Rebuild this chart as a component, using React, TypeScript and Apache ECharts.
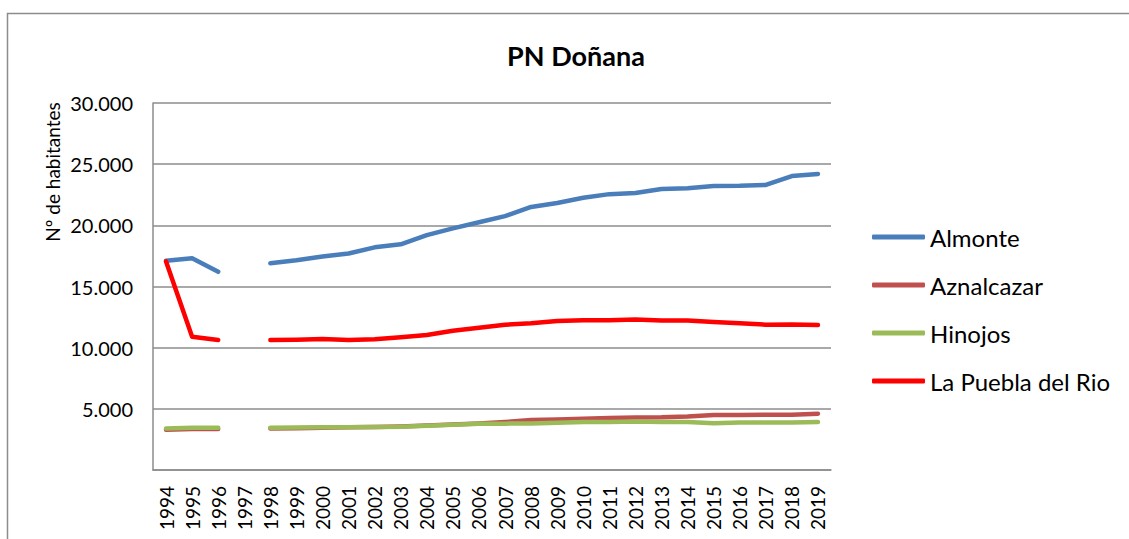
import React, { useEffect, useRef } from "react";
import * as echarts from "echarts";

const years = ["1994","1995","1996","1997","1998","1999","2000","2001","2002","2003","2004","2005","2006","2007","2008","2009","2010","2011","2012","2013","2014","2015","2016","2017","2018","2019"];
const almonte = [17100, 17300, 16200, null, 16900, 17150, 17450, 17700, 18200, 18450, 19200, 19750, 20250, 20750, 21500, 21830, 22250, 22550, 22640, 22970, 23030, 23220, 23230, 23300, 24030, 24200];
const aznalcazar = [3300, 3350, 3350, null, 3400, 3420, 3460, 3490, 3510, 3560, 3640, 3720, 3800, 3920, 4080, 4130, 4190, 4260, 4300, 4310, 4370, 4500, 4500, 4510, 4510, 4600];
const hinojos = [3400, 3450, 3450, null, 3460, 3470, 3490, 3500, 3510, 3540, 3620, 3700, 3780, 3790, 3800, 3870, 3930, 3920, 3960, 3930, 3920, 3830, 3880, 3890, 3880, 3920];
const puebla = [17050, 10900, 10630, null, 10630, 10650, 10700, 10620, 10680, 10850, 11030, 11380, 11620, 11880, 11990, 12180, 12250, 12250, 12310, 12230, 12230, 12100, 11990, 11880, 11900, 11850];

const seriesNames = ["Almonte", "Aznalcazar", "Hinojos", "La Puebla del Rio"];
const seriesColors = ["#4A7EBB", "#C0504D", "#9BBB59", "#FF0000"];
const seriesData = [almonte, aznalcazar, hinojos, puebla];

const FONT = "Lato, 'Open Sans', sans-serif";

function fmt(v: number): string {
  if (v === 0) return "";
  return String(v).replace(/\B(?=(\d{3})+(?!\d))/g, ".");
}

export default function App() {
  const ref = useRef<HTMLDivElement>(null);
  useEffect(() => {
    document.body.style.margin = "0";
    if (!ref.current) return;
    const chart = echarts.init(ref.current, null, { renderer: "svg" });
    chart.setOption({
      animation: false,
      backgroundColor: "#ffffff",
      grid: { left: 153, right: 298, top: 103, bottom: 69 },
      xAxis: {
        type: "category",
        data: years,
        boundaryGap: true,
        axisLine: { lineStyle: { color: "#8c8c8c", width: 1.5 } },
        axisTick: { show: false },
        axisLabel: { rotate: 90, fontFamily: FONT, fontSize: 19, color: "#000", margin: 16, interval: 0 },
      },
      yAxis: {
        type: "value",
        min: 0,
        max: 30000,
        interval: 5000,
        axisLine: { show: true, lineStyle: { color: "#8c8c8c", width: 1.5 } },
        axisTick: { show: false },
        splitLine: { lineStyle: { color: "#8c8c8c", width: 1.5 } },
        axisLabel: { fontFamily: FONT, fontSize: 20, color: "#000", margin: 20, formatter: fmt },
      },
      legend: {
        orient: "vertical",
        left: 867,
        top: 218,
        icon: "roundRect",
        itemWidth: 53,
        itemHeight: 5,
        itemGap: 20,
        textStyle: { fontFamily: FONT, fontSize: 24, color: "#000", lineHeight: 28 },
        data: seriesNames,
      },
      series: seriesNames.map((n, i) => ({
        name: n,
        type: "line",
        data: seriesData[i],
        showSymbol: false,
        symbol: "none",
        connectNulls: false,
        color: seriesColors[i],
        lineStyle: { color: seriesColors[i], width: 4.5, cap: "round", join: "round" },
        itemStyle: { color: seriesColors[i] },
      })),
      graphic: [
        {
          type: "rect",
          shape: { x: 7.5, y: 13.5, width: 1200, height: 600 },
          style: { fill: "none", stroke: "#8c8c8c", lineWidth: 1.5 },
          silent: true,
        },
        {
          type: "text",
          x: 576,
          y: 55,
          style: { text: "PN Doñana", font: `bold 27px ${FONT}`, fill: "#000", align: "center", verticalAlign: "middle" },
        },
        {
          type: "text",
          x: 52,
          y: 172,
          rotation: Math.PI / 2,
          style: { text: "Nº de habitantes", font: `19px ${FONT}`, fill: "#000", align: "center", verticalAlign: "middle" },
        },
      ],
    });
    return () => chart.dispose();
  }, []);
  return <div ref={ref} style={{ width: 1129, height: 539 }} />;
}
